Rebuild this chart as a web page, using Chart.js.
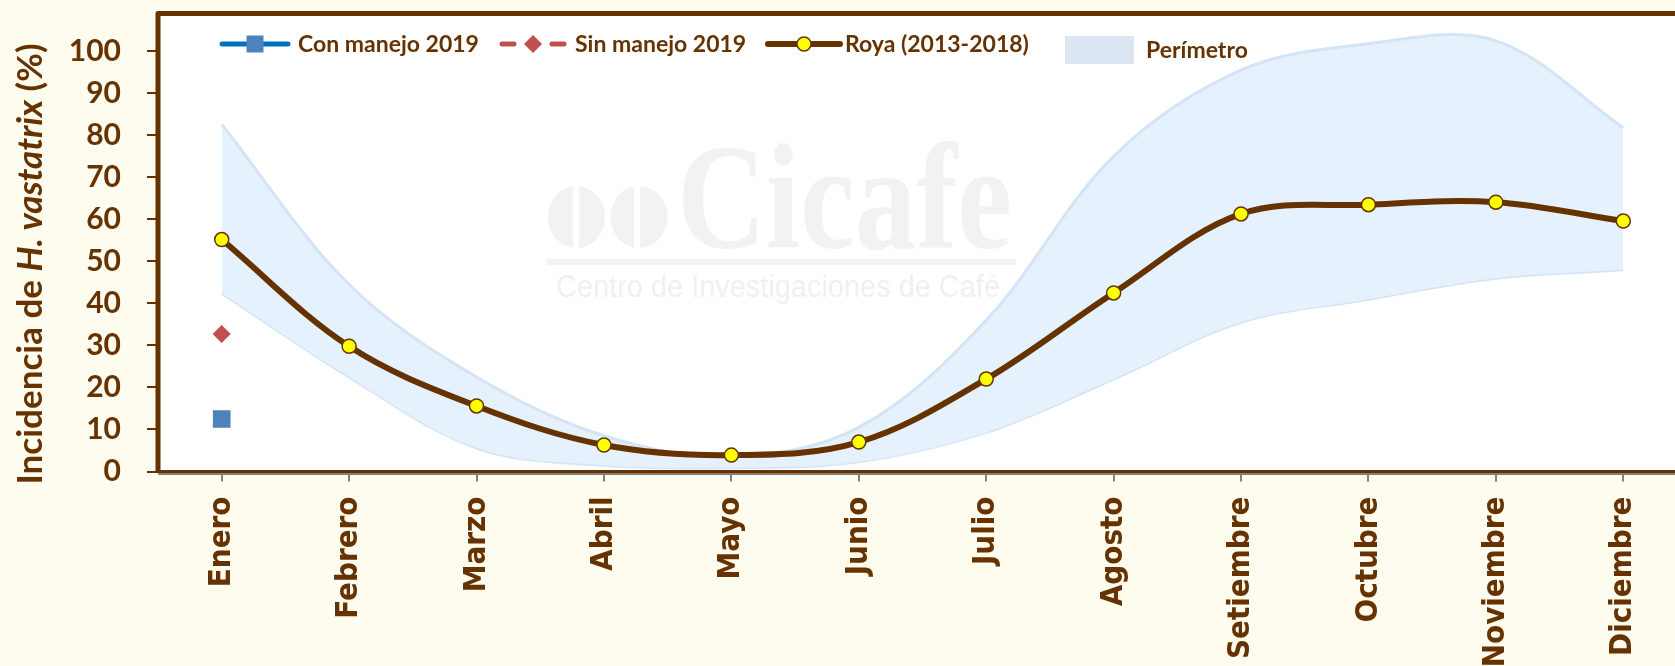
<!DOCTYPE html>
<html>
<head>
<meta charset="utf-8">
<script src="https://cdn.jsdelivr.net/npm/chart.js@4.4.1/dist/chart.umd.min.js"></script>
<style>
    html, body { margin: 0; padding: 0; background: #FEFBEF; overflow: hidden; }
    #wrap { position: relative; width: 1700px; height: 666px; }
</style>
</head>
<body>
<div id="wrap"><canvas id="royaChart" width="1700" height="666"></canvas></div>
<script>
// ---- data ----
const months = ['Enero', 'Febrero', 'Marzo', 'Abril', 'Mayo', 'Junio', 'Julio',
    'Agosto', 'Setiembre', 'Octubre', 'Noviembre', 'Diciembre'];
const royaValues   = [55.2, 29.8, 15.6, 6.3, 3.9, 7.0, 22.0, 42.5, 61.3, 63.5, 64.1, 59.6];
const conManejo    = [12.5, null, null, null, null, null, null, null, null, null, null, null];
const sinManejo    = [32.7, null, null, null, null, null, null, null, null, null, null, null];
const perimUpper   = [82.6, 44.5, 22.5, 8.5, 3.5, 10.5, 36.0, 75.0, 95.5, 101.8, 102.5, 81.8];
const perimLower   = [42.4, 22.5, 5.6, 1.5, 0.9, 2.3, 9.3, 22.0, 35.5, 41.0, 46.0, 48.0];
const yTickValues  = [0, 10, 20, 30, 40, 50, 60, 70, 80, 90, 100];

const BROWN = '#663300';
const CREAM = '#FEFBEF';

// background, plot frame, watermark, axis title and legend
const decorations = {
    id: 'decorations',
    beforeDraw(chart) {
        const { ctx, chartArea: a } = chart;
        ctx.save();
        ctx.fillStyle = CREAM;
        ctx.fillRect(0, 0, chart.width, chart.height);
        ctx.fillStyle = '#FFFFFF';
        ctx.fillRect(a.left, a.top, a.right - a.left, a.bottom - a.top);
        ctx.restore();
    },
    beforeDatasetsDraw(chart) {
        // Cicafe watermark
        const ctx = chart.ctx;
        ctx.save();
        ctx.fillStyle = '#F2F2F2';
        [[576.5, 576], [639, 637]].forEach(([cx, gap]) => {
            ctx.beginPath();
            ctx.ellipse(cx, 217, 28.5, 31, 0, 0, Math.PI * 2);
            ctx.fill();
            ctx.fillStyle = '#FFFFFF';
            ctx.fillRect(gap - 3, 184, 6, 66);
            ctx.fillStyle = '#F2F2F2';
        });
        ctx.font = 'bold 150px "Liberation Serif", "DejaVu Serif", serif';
        ctx.textBaseline = 'alphabetic';
        ctx.fillText('Cicafe', 677, 248, 335);
        ctx.fillRect(547, 259, 469, 6);
        ctx.fillStyle = '#F0F0F0';
        ctx.font = '31px "Liberation Sans", Arial, sans-serif';
        ctx.fillText('Centro de Investigaciones de Café', 556, 297, 444);
        ctx.restore();
    },
    afterDatasetsDraw(chart) {
        const { ctx, chartArea: a } = chart;
        ctx.save();
        // gray axis line + brown bottom line
        ctx.strokeStyle = '#808080';
        ctx.lineWidth = 2;
        ctx.beginPath(); ctx.moveTo(a.left, a.bottom + 2.5); ctx.lineTo(chart.width, a.bottom + 2.5); ctx.stroke();
        ctx.strokeStyle = BROWN;
        ctx.lineWidth = 3;
        ctx.beginPath(); ctx.moveTo(a.left - 2, a.bottom); ctx.lineTo(chart.width, a.bottom); ctx.stroke();
        // left + top border
        ctx.lineWidth = 5;
        ctx.lineJoin = 'round';
        ctx.beginPath();
        ctx.moveTo(a.left, a.bottom + 1);
        ctx.lineTo(a.left, a.top);
        ctx.lineTo(chart.width, a.top);
        ctx.stroke();
        ctx.restore();
    },
    afterDraw(chart) {
        const ctx = chart.ctx;
        const ds = chart.data.datasets;
        ctx.save();

        // y axis title with italic species name
        const parts = [
            ['Incidencia de ', 'bold 35px Lato, sans-serif'],
            ['H. vastatrix', 'italic bold 35px Lato, sans-serif'],
            [' (%)', 'bold 35px Lato, sans-serif'],
        ];
        let total = 0;
        parts.forEach(p => { ctx.font = p[1]; total += ctx.measureText(p[0]).width; });
        ctx.translate(42, 264);
        ctx.rotate(-Math.PI / 2);
        ctx.fillStyle = BROWN;
        ctx.textBaseline = 'alphabetic';
        let x = -total / 2;
        parts.forEach(p => { ctx.font = p[1]; ctx.fillText(p[0], x, 0); x += ctx.measureText(p[0]).width; });
        ctx.setTransform(1, 0, 0, 1, 0, 0);

        // legend
        ctx.font = 'bold 23px Lato, sans-serif';
        const drawMarker = (d, cx, cy) => {
            ctx.fillStyle = d.pointBackgroundColor;
            ctx.strokeStyle = d.pointBorderColor;
            ctx.lineWidth = d.pointBorderWidth || 1;
            Chart.helpers.drawPoint(ctx, {
                pointStyle: d.pointStyle, radius: d.legendRadius,
                borderWidth: d.pointBorderWidth, rotation: 0,
            }, cx, cy);
        };
        const lineItems = [
            { d: ds[3], x0: 222, x1: 288, text: 298 },
            { d: ds[4], x0: 500, x1: 566, text: 575, dashed: true },
            { d: ds[2], x0: 768, x1: 840, text: 845 },
        ];
        const ly = 44;
        lineItems.forEach(it => {
            ctx.strokeStyle = it.d.legendLine;
            ctx.lineWidth = it.d.legendLineWidth;
            ctx.lineCap = 'round';
            const mid = (it.x0 + it.x1) / 2;
            if (it.dashed) {
                ctx.beginPath(); ctx.moveTo(it.x0 + 2, ly); ctx.lineTo(it.x0 + 14, ly); ctx.stroke();
                ctx.beginPath(); ctx.moveTo(it.x1 - 14, ly); ctx.lineTo(it.x1 - 2, ly); ctx.stroke();
            } else {
                ctx.beginPath(); ctx.moveTo(it.x0, ly); ctx.lineTo(it.x1, ly); ctx.stroke();
            }
            drawMarker(it.d, mid, ly);
            ctx.fillStyle = BROWN;
            ctx.fillText(it.d.label, it.text, 52);
        });
        ctx.fillStyle = '#DCE6F2';
        ctx.fillRect(1065, 36, 69, 28);
        ctx.fillStyle = BROWN;
        ctx.fillText(ds[0].label, 1146, 58);
        ctx.restore();
    },
};

const bandStyle = {
    borderColor: '#D5E4F5',
    borderWidth: 3,
    pointRadius: 0,
    tension: 0.35,
    order: 5,
};

new Chart(document.getElementById('royaChart'), {
    type: 'line',
    data: {
        labels: months,
        datasets: [
            Object.assign({ label: 'Perímetro', data: perimUpper, fill: '+1',
                backgroundColor: '#E5F2FD' }, bandStyle),
            Object.assign({ label: 'Perímetro (inf)', data: perimLower, fill: false }, bandStyle),
            {
                label: 'Roya (2013-2018)', data: royaValues,
                borderColor: BROWN, borderWidth: 6, tension: 0.35,
                pointRadius: 7, pointBackgroundColor: '#FFFF00',
                pointBorderColor: BROWN, pointBorderWidth: 1.5,
                legendLine: BROWN, legendLineWidth: 6, legendRadius: 7,
                order: 2, fill: false,
            },
            {
                label: 'Con manejo 2019', data: conManejo,
                borderColor: '#0070C0', showLine: false,
                pointStyle: 'rect', pointRadius: 12.5,
                pointBackgroundColor: '#4F81BD', pointBorderColor: '#4F81BD', pointBorderWidth: 0,
                legendLine: '#0070C0', legendLineWidth: 5, legendRadius: 12,
                order: 1,
            },
            {
                label: 'Sin manejo 2019', data: sinManejo,
                borderColor: '#C0504D', showLine: false,
                pointStyle: 'rectRot', pointRadius: 9,
                pointBackgroundColor: '#C0504D', pointBorderColor: '#C0504D', pointBorderWidth: 0,
                legendLine: '#C0504D', legendLineWidth: 5, legendRadius: 9,
                order: 1,
            },
        ],
    },
    options: {
        responsive: false,
        devicePixelRatio: 1,
        animation: false,
        events: [],
        layout: { padding: { top: 13.5, right: 13, left: 0, bottom: 0 } },
        plugins: { legend: { display: false }, tooltip: { enabled: false } },
        scales: {
            x: {
                offset: true,
                border: { display: false },
                grid: { drawOnChartArea: false, drawTicks: true, tickLength: 10,
                        color: '#808080', lineWidth: 2 },
                ticks: {
                    autoSkip: false, minRotation: 90, maxRotation: 90, padding: 15,
                    color: BROWN,
                    font: { family: '"DejaVu Sans Condensed", "DejaVu Sans", sans-serif', size: 31, weight: 'bold' },
                },
                afterFit(scale) {
                    scale.height = 194.5;
                    scale.paddingLeft = 0; scale.paddingRight = 0;
                },
            },
            y: {
                min: 0, max: 109,
                border: { display: false },
                grid: { drawOnChartArea: false, drawTicks: true, tickLength: 11,
                        color: BROWN, lineWidth: 2 },
                ticks: {
                    padding: 26, color: BROWN,
                    font: { family: 'Lato, sans-serif', size: 30, weight: 'bold' },
                },
                afterBuildTicks(scale) { scale.ticks = yTickValues.map(v => ({ value: v })); },
                afterFit(scale) {
                    scale.width = 158;
                    scale.paddingTop = 0; scale.paddingBottom = 0;
                },
            },
        },
    },
    plugins: [decorations],
});
</script>
</body>
</html>
